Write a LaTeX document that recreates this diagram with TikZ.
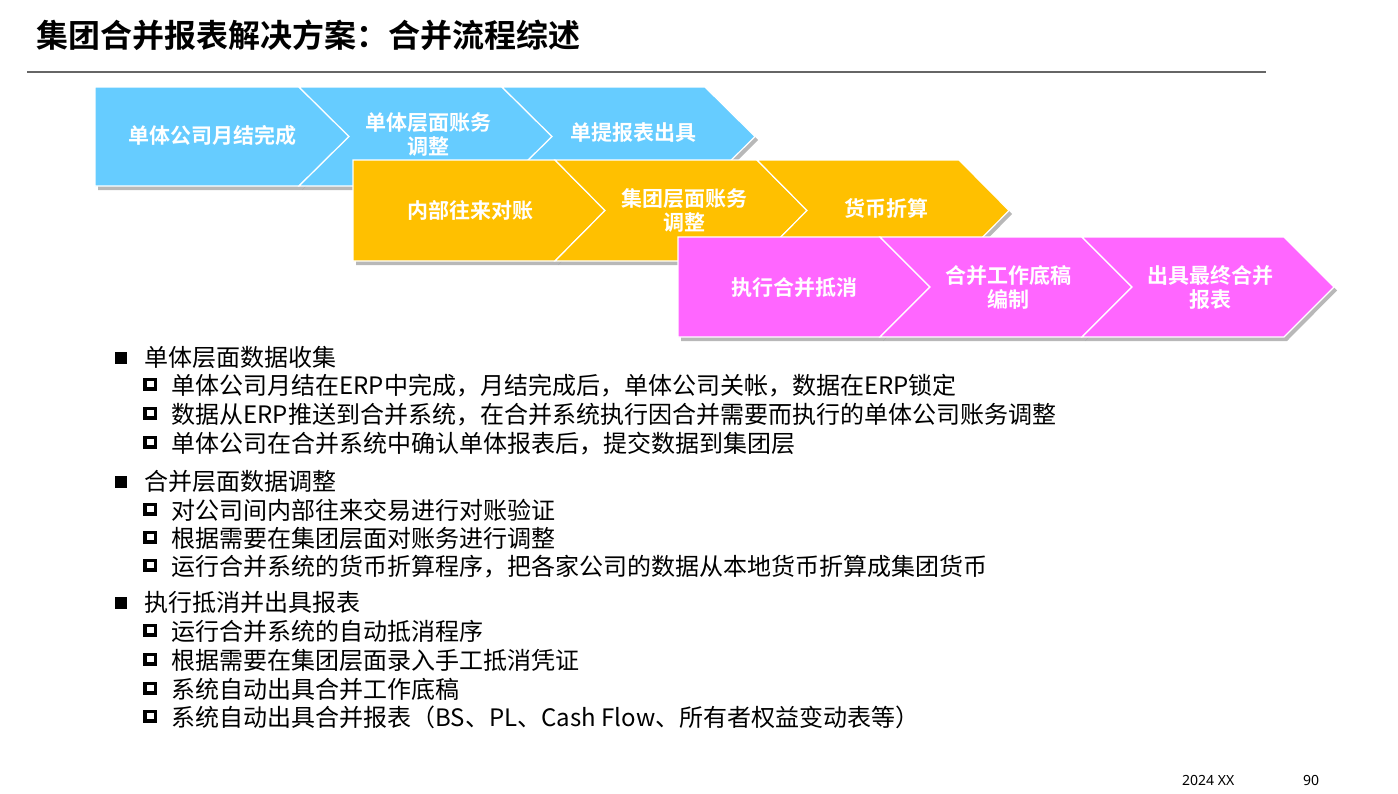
\documentclass[tikz,border=0pt]{standalone}
\usepackage{fontspec}
\setmainfont{Noto Sans CJK SC}[BoldFont={Noto Sans CJK SC Bold}]
\newfontfamily\footfont{Noto Sans}
\definecolor{cblue}{HTML}{66CCFF}
\definecolor{cyellow}{HTML}{FFC000}
\definecolor{cmag}{HTML}{FF66FF}
\newcommand\chevA[4]{(#1,#3) -- (#2,#3) -- ({#2+50},{(#3+#4)/2}) -- (#2,#4) -- (#1,#4) -- cycle}
\newcommand\chevB[4]{(#1,#3) -- (#2,#3) -- ({#2+50},{(#3+#4)/2}) -- (#2,#4) -- (#1,#4) -- ({#1+50},{(#3+#4)/2}) -- cycle}
\tikzset{
  chevshape/.style={draw=white, line width=1.2pt, line join=miter},
  chevshadow/.style={fill=black, opacity=0.28, draw=none},
  chevtext/.style={text=white, font=\bfseries\fontsize{21}{24}\selectfont, align=center},
  lvla/.style={anchor=base west, font=\fontsize{24}{28}\selectfont},
  lvlb/.style={anchor=base west, font=\fontsize{24}{28}\selectfont},
  bula/.style={fill=black, draw=none, minimum width=12pt, minimum height=12pt, inner sep=0, outer sep=0},
  bulb/.style={draw=black, line width=3.5pt, fill=white, minimum width=10.5pt, minimum height=9.5pt, inner sep=0, outer sep=0},
}
\begin{document}
\begin{tikzpicture}[x=1pt,y=-1pt]
\useasboundingbox (0,0) rectangle (1398,793);
% title
\node[anchor=base west, font=\bfseries\fontsize{32}{36}\selectfont, inner sep=0] (title) at (36,47) {集团合并报表解决方案：合并流程综述};
\draw[line width=1.6pt, color=black!60] (27,72) coordinate (tl) -- (1266,72) coordinate (tr);
% blue row
\fill[chevshadow] \chevA{98}{302}{90}{190};
\fill[chevshadow] \chevB{302}{505}{90}{190};
\fill[chevshadow] \chevB{505}{708}{90}{190};
\draw[chevshape, fill=cblue] \chevA{95}{299}{87}{186};
\draw[chevshape, fill=cblue] \chevB{299}{502}{87}{186};
\draw[chevshape, fill=cblue] \chevB{502}{705}{87}{186};
\node[chevtext] (b1) at (212,136) {单体公司月结完成};
\node[chevtext] (b2) at (428,134) {单体层面账务\\调整};
\node[chevtext] (b3) at (633,133) {单提报表出具};
% yellow row
\fill[chevshadow] \chevA{356}{558}{163}{265};
\fill[chevshadow] \chevB{558}{760}{163}{265};
\fill[chevshadow] \chevB{760}{962}{163}{265};
\draw[chevshape, fill=cyellow] \chevA{353}{555}{160}{261};
\draw[chevshape, fill=cyellow] \chevB{555}{757}{160}{261};
\draw[chevshape, fill=cyellow] \chevB{757}{959}{160}{261};
\node[chevtext] (y1) at (470,210) {内部往来对账};
\node[chevtext] (y2) at (684,210) {集团层面账务\\调整};
\node[chevtext] (y3) at (886,208) {货币折算};
% magenta row
\fill[chevshadow] \chevA{681}{883}{240}{341};
\fill[chevshadow] \chevB{883}{1085}{240}{341};
\fill[chevshadow] \chevB{1085}{1287}{240}{341};
\draw[chevshape, fill=cmag] \chevA{678}{880}{237}{337};
\draw[chevshape, fill=cmag] \chevB{880}{1082}{237}{337};
\draw[chevshape, fill=cmag] \chevB{1082}{1284}{237}{337};
\node[chevtext] (m1) at (794,288) {执行合并抵消};
\node[chevtext] (m2) at (1008,287) {合并工作底稿\\编制};
\node[chevtext] (m3) at (1210,287) {出具最终合并\\报表};
% bullet list
\node[bula] (s1) at (121,358) {};
\node[lvla] (h1) at (141,366) {单体层面数据收集};
\node[bulb] (s11) at (150,384) {};
\node[lvlb] (l11) at (168,394) {单体公司月结在ERP中完成，月结完成后，单体公司关帐，数据在ERP锁定};
\node[bulb] (s12) at (150,413) {};
\node[lvlb] (l12) at (168,423) {数据从ERP推送到合并系统，在合并系统执行因合并需要而执行的单体公司账务调整};
\node[bulb] (s13) at (150,442) {};
\node[lvlb] (l13) at (168,452) {单体公司在合并系统中确认单体报表后，提交数据到集团层};
\node[bula] (s2) at (121,482) {};
\node[lvla] (h2) at (141,490) {合并层面数据调整};
\node[bulb] (s21) at (150,509) {};
\node[lvlb] (l21) at (168,519) {对公司间内部往来交易进行对账验证};
\node[bulb] (s22) at (150,537) {};
\node[lvlb] (l22) at (168,547) {根据需要在集团层面对账务进行调整};
\node[bulb] (s23) at (150,565) {};
\node[lvlb] (l23) at (168,575) {运行合并系统的货币折算程序，把各家公司的数据从本地货币折算成集团货币};
\node[bula] (s3) at (121,603) {};
\node[lvla] (h3) at (141,611) {执行抵消并出具报表};
\node[bulb] (s31) at (150,630) {};
\node[lvlb] (l31) at (168,640) {运行合并系统的自动抵消程序};
\node[bulb] (s32) at (150,659) {};
\node[lvlb] (l32) at (168,669) {根据需要在集团层面录入手工抵消凭证};
\node[bulb] (s33) at (150,688) {};
\node[lvlb] (l33) at (168,698) {系统自动出具合并工作底稿};
\node[bulb] (s34) at (150,716) {};
\node[lvlb] (l34) at (168,726) {系统自动出具合并报表（BS、PL、Cash Flow、所有者权益变动表等）};
% footer
\node[anchor=base west, font=\footfont\fontsize{14}{16}\selectfont, inner sep=0] (date) at (1182,785) {2024 XX};
\node[anchor=base west, font=\footfont\fontsize{14}{16}\selectfont, inner sep=0] (page) at (1303,785) {90};
\end{tikzpicture}
\end{document}
